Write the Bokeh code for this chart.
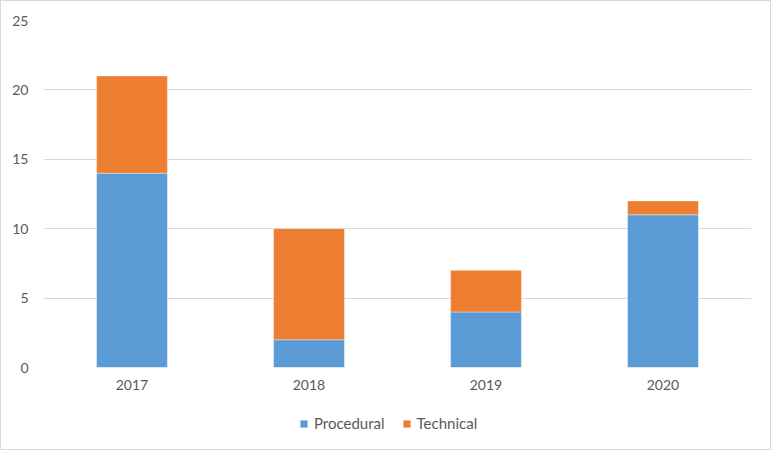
from bokeh.plotting import figure
from bokeh.models import FactorRange, Legend, LegendItem, FixedTicker, Range1d
from bokeh.layouts import column
from bokeh.embed import file_html
from bokeh.resources import INLINE

years = ["2017", "2018", "2019", "2020"]
procedural = [14, 2, 4, 11]
technical = [7, 8, 3, 1]
series = ["Procedural", "Technical"]
colors = ["#5B9BD5", "#ED7D31"]
y_ticks = [0, 5, 10, 15, 20, 25]

FONT = "Lato"
TEXT_COLOR = "#595959"

p = figure(width=769, height=399, x_range=FactorRange(*years, range_padding=0),
           y_range=Range1d(0, 25), output_backend="svg", toolbar_location=None,
           min_border_left=42, min_border_right=19, min_border_top=19,
           min_border_bottom=33)
p.x_range.factor_padding = 0

data = {"years": years, "Procedural": procedural, "Technical": technical}
renderers = p.vbar_stack(series, x="years", width=0.4, source=data, color=colors,
                         line_color="white", line_width=0.6, line_alpha=0.6)

p.outline_line_color = None
p.xgrid.grid_line_color = None
p.ygrid.grid_line_color = "#D9D9D9"
p.ygrid.grid_line_width = 1
p.yaxis.ticker = FixedTicker(ticks=y_ticks)

for ax in (p.xaxis[0], p.yaxis[0]):
    ax.axis_line_color = None
    ax.major_tick_line_color = None
    ax.minor_tick_line_color = None
    ax.major_label_text_font = FONT
    ax.major_label_text_font_size = "14px"
    ax.major_label_text_color = TEXT_COLOR
p.yaxis.major_label_standoff = 9
p.xaxis.major_label_standoff = 6

# legend in its own strip below the chart; the swatch stand-ins are tiny
# glyphs hidden behind the legend's opaque white box
lg = figure(width=769, height=49, x_range=Range1d(0, 1), y_range=Range1d(0, 1),
            output_backend="svg", toolbar_location=None,
            x_axis_location=None, y_axis_location=None,
            min_border_left=42, min_border_right=19, min_border_top=0, min_border_bottom=6)
lg.grid.visible = False
lg.outline_line_color = None
dummy = [lg.vbar(x=[0.5], bottom=[0.5], top=[0.505], width=0.001, fill_color=c, line_color=None)
         for c in colors]

legend = Legend(items=[LegendItem(label=s, renderers=[r]) for s, r in zip(series, dummy)],
                orientation="horizontal", location=(256, 11),
                label_text_font=FONT, label_text_font_size="15px", label_text_color=TEXT_COLOR,
                glyph_width=9, glyph_height=9, spacing=17, label_standoff=6,
                border_line_color=None, background_fill_color="white", background_fill_alpha=1,
                margin=0, padding=4)
lg.add_layout(legend)

layout = column(p, lg, spacing=0, styles={"border": "1px solid #D9D9D9"})

open("out.html", "w").write(file_html(layout, INLINE))
